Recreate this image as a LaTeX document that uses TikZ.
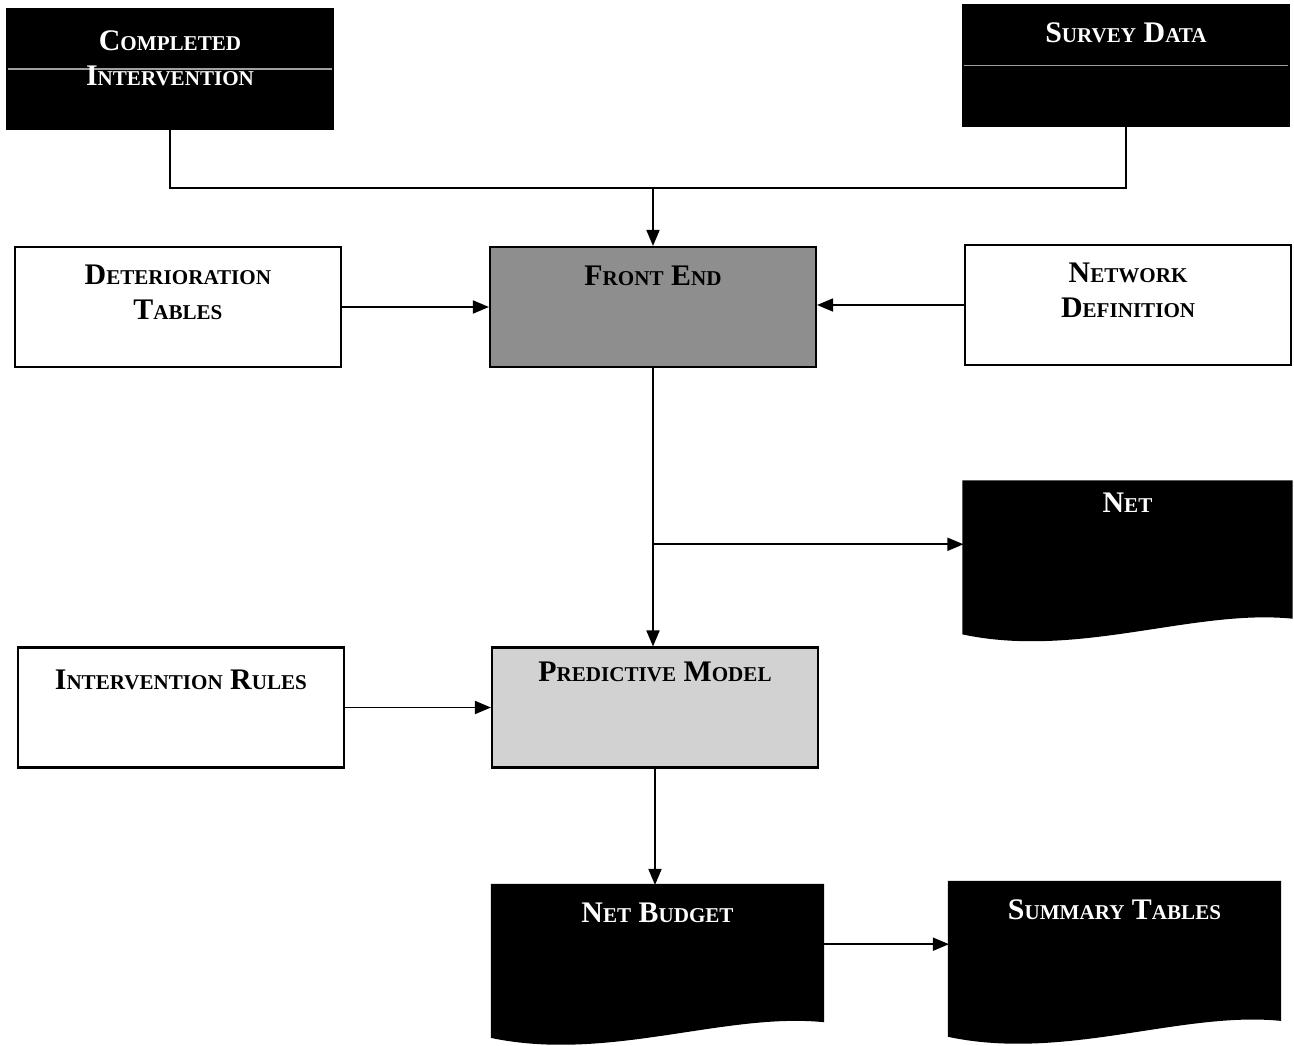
\documentclass[tikz,border=0pt]{standalone}
\usepackage{fontspec}
\setmainfont{Liberation Serif}
\usepackage{tikz}
\usetikzlibrary{arrows.meta, positioning, calc, backgrounds}
\definecolor{frontGray}{HTML}{8E8E8E}
\definecolor{modelGray}{HTML}{D2D2D2}
\definecolor{scanLine}{HTML}{A0A0A0}
\newcommand{\smc}[1]{{\fontsize{12}{19.4}\selectfont\uppercase{#1}}}
% wavy-bottom document outline round a named node
\newcommand{\docshape}[1]{%
  \path[docfill] let \p1=(#1.north west), \p2=(#1.south east) in
    (\p1) -- (\x2,\y1) -- (\x2,{\y1+0.85*(\y2-\y1)})
    .. controls ({\x1+0.7*(\x2-\x1)},{\y1+0.79*(\y2-\y1)}) and ({\x1+0.35*(\x2-\x1)},{\y1+1.1*(\y2-\y1)}) ..
    (\x1,{\y1+0.95*(\y2-\y1)}) -- cycle;}

\begin{document}
\begin{tikzpicture}[
    box/.style={rectangle, draw=black, line width=1.2pt, minimum width=6.52cm, minimum height=2.4cm,
                inner sep=0pt, align=center, text height=0.76cm, text depth=1.64cm,
                font=\fontsize{17}{19.4}\selectfont\bfseries},
    twoline/.style={text height=1.44cm, text depth=0.96cm},
    darkbox/.style={box, fill=black, text=white,
                path picture={\draw[scanLine, line width=1pt] (path picture bounding box.west) -- (path picture bounding box.east);}},
    docbox/.style={box, draw=none, minimum height=3.16cm, text height=0.72cm, text depth=2.44cm, text=white},
    docfill/.style={fill=black, draw=black, line width=1.2pt},
    arrow/.style={-{Triangle[length=0.32cm, width=0.26cm]}, line width=1pt},
    line/.style={line width=1pt},
]
\useasboundingbox (0,0) rectangle (25.88,-20.92);

% Inputs on top
\node[darkbox, text height=1.52cm, text depth=0.88cm] (compl) at (3.40,-1.38) {C\smc{ompleted}\\I\smc{ntervention}};
\node[darkbox, text height=0.74cm, text depth=1.66cm] (survey) at (22.52,-1.31) {S\smc{urvey} D\smc{ata}};

% Front end row
\node[box, fill=frontGray] (front) at (13.06,-6.14) {F\smc{ront} E\smc{nd}};
\node[box, twoline, left=2.94cm of front] (deter) {D\smc{eterioration}\\T\smc{ables}};
\node[box, twoline, right=2.94cm of front, yshift=0.04cm] (netdef) {N\smc{etwork}\\D\smc{efinition}};

% Model row
\node[box, fill=modelGray, text height=0.68cm, text depth=1.72cm] (predict) at (13.10,-14.15) {P\smc{redictive} M\smc{odel}};
\node[box, left=2.92cm of predict, text height=0.84cm, text depth=1.56cm] (rules) {I\smc{ntervention} R\smc{ules}};

% Outputs
\node[docbox, text height=0.58cm, text depth=2.56cm] (net) at (22.55,-11.23) {N\smc{et}};
\node[docbox, minimum width=6.58cm] (budget) at (13.15,-19.30) {N\smc{et} B\smc{udget}};
\node[docbox, minimum width=6.58cm, minimum height=3.2cm, text depth=2.48cm] (summary) at (22.29,-19.26) {S\smc{ummary} T\smc{ables}};

\begin{scope}[on background layer]
  \docshape{net}
  \docshape{budget}
  \docshape{summary}
\end{scope}

% Connectors
\coordinate (join) at (13.06,-3.76);
\draw[line] (compl.south) |- (join) -| (survey.south);
\draw[arrow] (join) -- (front.north);
\draw[arrow] (deter.east) -- (deter.east -| front.west);
\draw[arrow] (netdef.west) -- (netdef.west -| front.east);
\draw[arrow] (front.south) -- (front.south |- predict.north);
\coordinate (fork) at ($(front.south)!0.633!(front.south |- predict.north)$);
\draw[arrow] (fork) -- (fork -| net.west);
\draw[arrow] (rules.east) -- (rules.east -| predict.west);
\draw[arrow] (predict.south) -- (predict.south |- budget.north);
\coordinate (out) at ($(budget.north east)!0.37!(budget.south east)$);
\draw[arrow] (out) -- (out -| summary.west);

\end{tikzpicture}
\end{document}
